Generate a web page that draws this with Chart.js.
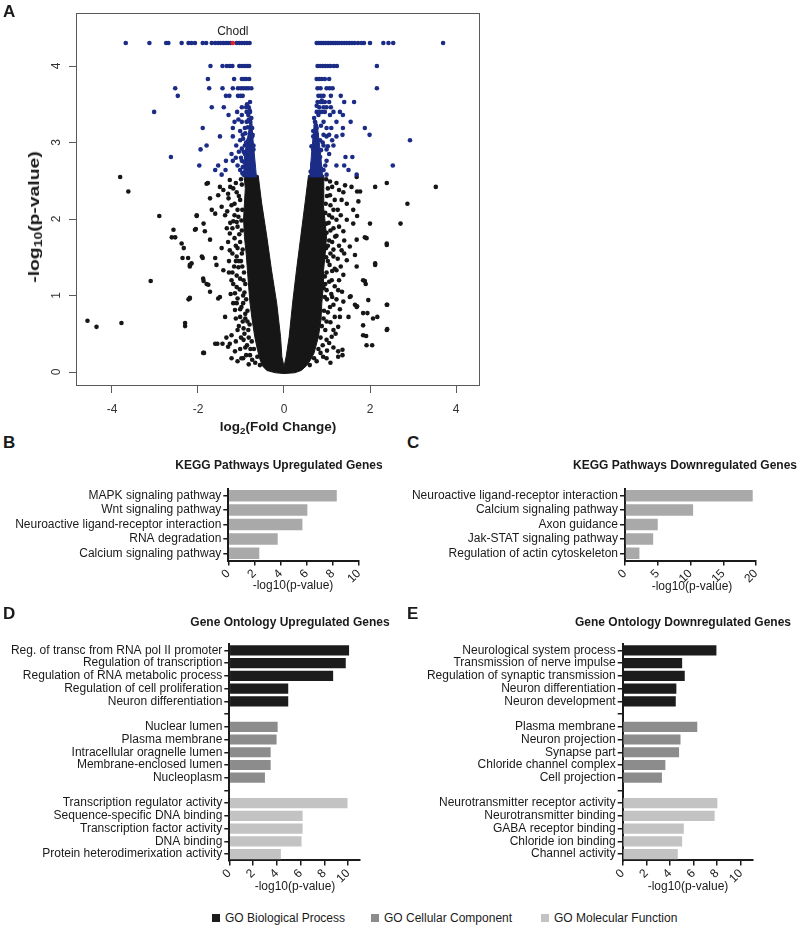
<!DOCTYPE html>
<html><head><meta charset="utf-8">
<script src="https://cdn.jsdelivr.net/npm/chart.js@4.4.1/dist/chart.umd.min.js"></script>
<style>
body{margin:0;background:#fff;}
#wrap{position:relative;width:800px;height:928px;overflow:hidden;background:#fff;font-family:"Liberation Sans",Arial,Helvetica,sans-serif;color:#1a1a1a;}
canvas{position:absolute;}
.t{position:absolute;white-space:nowrap;line-height:1;}
.let{font-weight:bold;font-size:17px;}
.ttl{font-weight:bold;font-size:12px;transform:translateX(-50%);}
.axt{font-size:12px;transform:translateX(-50%);}
sub{font-size:0.72em;vertical-align:-0.28em;line-height:0;}
.leg{position:absolute;font-size:12px;line-height:14px;white-space:nowrap;}
.sq{display:inline-block;width:8px;height:8px;margin-right:5px;vertical-align:0px;}
</style></head>
<body><div id="wrap">
<canvas id="cA" width="500" height="425" style="left:0;top:0"></canvas>
<canvas id="cB" width="400" height="135" style="left:0;top:470px"></canvas>
<canvas id="cC" width="400" height="135" style="left:400px;top:470px"></canvas>
<canvas id="cD" width="400" height="262" style="left:0;top:630px"></canvas>
<canvas id="cE" width="400" height="262" style="left:400px;top:630px"></canvas>

<div class="t let" style="left:3px;top:3px">A</div>
<div class="t let" style="left:3px;top:434px">B</div>
<div class="t let" style="left:407px;top:434px">C</div>
<div class="t let" style="left:3px;top:605px">D</div>
<div class="t let" style="left:407px;top:605px">E</div>

<div class="t" style="left:34px;top:217px;font-weight:bold;font-size:14px;transform:translate(-50%,-50%) rotate(-90deg) scaleX(1.38);">-log<sub>10</sub>(p-value)</div>
<div class="t" style="left:278px;top:420px;font-weight:bold;font-size:13.5px;transform:translateX(-50%);">log<sub>2</sub>(Fold Change)</div>

<div class="t ttl" style="left:279px;top:459px">KEGG Pathways Upregulated Genes</div>
<div class="t ttl" style="left:685px;top:459px">KEGG Pathways Downregulated Genes</div>
<div class="t ttl" style="left:290px;top:616px">Gene Ontology Upregulated Genes</div>
<div class="t ttl" style="left:683px;top:616px">Gene Ontology Downregulated Genes</div>

<div class="t axt" style="left:293px;top:579px">-log10(p-value)</div>
<div class="t axt" style="left:692px;top:580px">-log10(p-value)</div>
<div class="t axt" style="left:295px;top:880px">-log10(p-value)</div>
<div class="t axt" style="left:688px;top:880px">-log10(p-value)</div>

<div class="leg" style="left:212px;top:911px"><span class="sq" style="background:#1c1c1c"></span>GO Biological Process</div>
<div class="leg" style="left:371px;top:911px"><span class="sq" style="background:#8c8c8c"></span>GO Cellular Component</div>
<div class="leg" style="left:541px;top:911px"><span class="sq" style="background:#c3c3c3"></span>GO Molecular Function</div>
</div>
<script>
// ---------------- Panel A data (volcano) ----------------
const xTickVals = [-4, -2, 0, 2, 4];
const yTickVals = [0, 1, 2, 3, 4];
const chodlPt = [-1.19, 4.3];
const chodlName = 'Chodl';

const sigLeft = [
[-3.68,4.3],[-3.13,4.3],[-2.74,4.3],[-2.69,4.3],[-2.38,4.3],[-2.22,4.3],[-2.15,4.3],[-2.07,4.3],[-1.89,4.3],[-1.81,4.3],[-1.68,4.3],[-1.60,4.3],[-1.53,4.3],[-1.47,4.3],[-1.41,4.3],[-1.35,4.3],[-1.30,4.3],[-1.24,4.3],[-1.10,4.3],[-1.04,4.3],[-0.98,4.3],[-0.92,4.3],[-0.86,4.3],[-0.80,4.3],
[-1.71,4.0],[-1.43,4.0],[-1.33,4.0],[-1.26,4.0],[-1.20,4.0],[-1.04,4.0],[-0.98,4.0],[-0.92,4.0],[-0.86,4.0],[-0.81,4.0],
[-1.77,3.83],[-1.16,3.83],[-0.98,3.83],[-0.93,3.83],[-0.88,3.83],[-0.81,3.83],
[-2.53,3.71],[-1.74,3.71],[-1.43,3.71],[-1.19,3.71],[-1.07,3.71],[-1.00,3.71],[-0.94,3.71],[-0.88,3.71],[-0.83,3.71],[-0.76,3.71],
[-2.47,3.61],[-1.35,3.61],[-1.27,3.61],[-1.07,3.61],[-1.01,3.61],[-0.96,3.61],
[-0.79,3.53],
[-1.68,3.46],[-1.40,3.46],[-0.98,3.46],[-0.88,3.46],[-0.82,3.46],
[-3.02,3.40],[-1.09,3.40],[-0.87,3.40],[-0.79,3.40],
[-1.29,3.36],[-0.98,3.36],[-0.83,3.36],
[-1.15,3.27],[-0.98,3.27],[-0.79,3.27],
[-1.89,3.19],[-1.19,3.19],[-0.91,3.19],[-0.74,3.19],
[-0.96,3.10],[-0.79,3.10],[-0.73,3.10],
[-1.49,3.08],[-1.19,3.08],[-0.74,3.08],
[-1.02,3.03],[-0.83,3.03],
[-1.80,2.96],[-1.11,2.96],[-0.91,2.96],[-0.71,2.96],
[-1.94,2.91],[-0.85,2.91],[-0.71,2.91],
[-1.22,2.85],[-0.91,2.85],[-0.75,2.85],
[-2.63,2.81],[-0.87,2.81],
[-1.35,2.76],[-1.19,2.76],[-0.98,2.76],
[-1.97,2.70],[-1.53,2.70],[-1.08,2.70],[-0.85,2.70],
[-1.60,2.64],[-1.36,2.64],[-1.02,2.64],[-0.76,2.64],
[-1.45,2.58],[-0.94,2.58],[-0.72,2.58],
[-0.97,2.60],[-0.90,2.62],[-0.96,2.68],[-0.92,2.74],[-1.00,2.80],[-0.94,2.88],[-0.98,2.92],[-0.88,3.00],[-0.95,3.05],[-0.90,3.12],[-0.84,3.20],[-0.87,3.27],[-0.82,3.30],[-0.76,3.32],[-0.80,3.42],[-0.86,3.50],[-1.05,2.88],[-1.12,2.80],[-1.02,3.15],[-1.06,3.30]
];
const sigRight = [
[0.76,4.3],[0.80,4.3],[0.84,4.3],[0.88,4.3],[0.92,4.3],[0.96,4.3],[1.00,4.3],[1.04,4.3],[1.08,4.3],[1.12,4.3],[1.16,4.3],[1.20,4.3],[1.24,4.3],[1.28,4.3],[1.34,4.3],[1.40,4.3],[1.46,4.3],[1.52,4.3],[1.58,4.3],[1.64,4.3],[1.72,4.3],[1.80,4.3],[1.86,4.3],[2.00,4.3],[2.31,4.3],[2.43,4.3],[2.54,4.3],[3.70,4.3],
[0.78,4.0],[0.84,4.0],[0.90,4.0],[0.96,4.0],[1.02,4.0],[1.08,4.0],[1.16,4.0],[1.23,4.0],[2.16,4.0],
[0.76,3.83],[0.82,3.83],[0.88,3.83],[0.95,3.83],[1.05,3.83],
[0.78,3.71],[0.85,3.71],[0.99,3.71],[1.06,3.71],[1.13,3.71],[2.16,3.71],
[0.80,3.61],[0.86,3.61],[0.92,3.61],[1.09,3.61],[1.32,3.61],
[0.78,3.53],[0.85,3.53],[0.90,3.53],[0.95,3.53],[1.05,3.53],[1.40,3.53],[1.63,3.53],
[0.92,3.46],[0.99,3.46],[1.09,3.46],
[0.76,3.40],[0.82,3.40],[0.88,3.40],[0.95,3.40],[1.15,3.40],[1.30,3.40],
[0.80,3.36],[1.07,3.36],[1.37,3.36],
[0.72,3.27],[0.92,3.27],[1.22,3.27],[1.55,3.27],
[0.76,3.19],[0.99,3.19],[1.10,3.19],[1.37,3.19],[1.88,3.19],
[0.76,3.10],[0.92,3.10],[1.36,3.10],[1.99,3.10],
[0.68,3.08],[0.99,3.08],[1.22,3.08],
[0.84,3.03],[1.12,3.03],[2.93,3.03],
[0.76,2.96],[0.92,2.96],[1.15,2.96],
[0.68,2.91],[0.99,2.91],
[0.72,2.85],[1.05,2.85],
[0.84,2.81],[1.43,2.81],[1.59,2.81],
[0.76,2.76],[0.99,2.76],
[0.72,2.70],[1.22,2.70],[1.40,2.70],[2.53,2.70],
[0.76,2.64],[0.92,2.64],[1.50,2.64],
[0.68,2.58],[0.99,2.58],[1.69,2.58],
[0.62,2.62],[0.66,2.72],[0.70,2.80],[0.64,2.95],[0.72,3.00],[0.68,3.15],[0.74,3.22],[0.70,3.32],[0.76,3.48],[0.86,2.90],[0.90,3.00],[0.96,2.70],[1.02,2.95],[0.86,3.22],[0.82,3.46],[0.88,3.55],[1.05,3.10],[0.80,2.62],[0.86,2.66]
];
const nsLeft = [
[-3.81,2.55],[-3.62,2.36],[-1.77,2.47],[-1.49,2.42],[-2.90,2.04],[-2.03,2.04],[-1.87,1.94],[-2.57,1.86],[-2.07,1.86],[-2.61,1.76],[-2.53,1.76],[-2.38,1.68],[-2.33,1.62],[-2.23,1.49],[-2.36,1.49],[-1.89,1.49],[-2.15,1.42],[-2.19,1.38],[-3.10,1.19],[-1.87,1.19],[-1.80,1.15],[-1.72,1.05],[-2.22,0.95],[-2.19,0.97],[-1.49,0.98],[-4.57,0.67],[-4.36,0.59],[-3.78,0.64],[-2.30,0.64],[-2.30,0.60],[-1.37,0.72],[-1.55,0.37],[-1.43,0.37],[-1.30,0.33],[-1.86,0.25],[-1.22,0.18],[-0.95,0.18],[-1.34,0.45],
[-1.80,2.46],[-1.72,2.27],[-2.03,2.05],[-2.05,1.87],[-1.84,1.84],[-1.68,2.12],[-1.60,2.07],[-1.45,2.16],[-1.37,2.05],[-1.53,2.31],[-1.26,2.51],[-1.18,2.40],[-1.18,1.97],[-1.33,1.88],[-1.72,1.73],[-1.45,1.62],[-1.91,1.51],[-1.60,1.49],[-1.57,1.40],[-1.41,1.33],[-2.19,1.40],[-1.88,1.22],[-1.76,1.14],[-1.53,0.96],[-1.26,1.59],[-1.22,1.20],[-1.14,1.03],[-1.10,0.90],[-1.02,0.72],[-0.94,0.57],[-0.83,0.55],[-1.22,0.48],[-1.60,0.37],[-1.88,0.25],[-1.26,0.37],[-1.14,0.27],[-0.99,0.18],[-0.79,0.22],[-0.67,0.12],[-0.56,0.09],[-2.19,0.96],[-1.10,1.51],[-1.02,1.70],[-1.29,2.27],[-1.06,2.03],[-1.41,2.38],[-1.02,2.25],[-1.26,1.81],[-1.06,1.37],[-1.14,0.81],[-0.99,0.85],[-0.94,0.42],[-1.10,1.11],
[-0.98,2.45],[-1.05,2.30],[-0.97,2.12],[-1.08,1.90],[-0.98,1.85],[-1.12,1.65],[-0.96,1.60],[-1.00,1.45],[-0.93,1.30],[-1.02,1.22],[-0.90,1.15],[-0.95,1.00],[-0.88,0.95],[-0.85,0.80],[-0.90,0.70],[-0.80,0.62],[-0.75,0.40],[-0.70,0.30],[-0.62,0.20],[-0.86,0.35],[-1.15,2.20],[-1.12,1.45],[-1.20,1.30],[-1.05,0.60],
[-1.25,2.42],[-1.12,2.47],[-1.00,2.52],[-1.30,2.33],[-1.10,2.35],[-1.22,2.18],[-1.08,2.12],[-1.32,2.10],[-1.15,2.05],[-1.25,1.95],[-1.10,1.96],[-0.99,1.98],[-1.20,1.88],[-1.04,1.80],[-1.15,1.75],[-1.30,1.70],[-1.08,1.62],[-1.20,1.55],[-0.98,1.55],[-1.28,1.45],[-1.05,1.45],[-1.16,1.38],[-0.97,1.38],[-1.28,1.30],[-1.10,1.26],[-0.94,1.20],[-1.18,1.15],[-1.03,1.08],[-1.24,1.02],[-0.92,1.04],[-1.08,0.96],[-1.18,0.90],[-0.95,0.90],[-1.02,0.82],[-0.90,0.76],[-1.12,0.70],[-0.96,0.66],[-0.85,0.66],[-1.08,0.55],[-0.92,0.50],[-1.00,0.45],[-0.82,0.45],[-1.12,0.40],[-0.90,0.32],[-1.02,0.30],[-0.78,0.30],[-0.88,0.22],[-1.08,0.14],[-0.74,0.16],[-0.82,0.10]
];
const nsRight = [
[3.53,2.42],[2.39,2.47],[2.12,2.42],[1.70,2.36],[2.87,2.20],[2.71,1.94],[1.70,2.04],[2.00,1.94],[1.88,1.76],[2.39,1.68],[2.12,1.42],[1.88,1.19],[1.90,1.15],[1.55,0.99],[2.40,0.88],[1.65,0.88],[1.70,0.86],[2.17,0.72],[1.94,0.77],[2.40,0.56],[1.91,0.47],[2.05,0.35],[1.36,0.29],[1.36,0.22],
[1.07,2.49],[1.22,2.47],[1.42,2.44],[1.57,2.42],[1.77,2.36],[1.69,2.55],[1.07,2.31],[1.34,2.25],[1.46,2.20],[1.61,2.12],[1.73,2.23],[1.15,2.12],[0.99,1.94],[1.22,1.99],[1.46,1.99],[1.61,1.94],[1.38,1.84],[1.19,1.77],[1.69,1.73],[1.92,1.75],[1.53,1.64],[1.34,1.59],[1.65,1.53],[1.15,1.51],[1.46,1.46],[1.69,1.38],[2.12,1.40],[1.22,1.33],[1.11,1.20],[1.38,1.27],[1.84,1.20],[0.99,1.07],[1.26,1.07],[1.53,0.98],[1.69,0.85],[1.96,0.94],[2.39,0.88],[1.07,0.85],[1.38,0.92],[1.30,0.72],[1.50,0.72],[1.84,0.77],[2.07,0.70],[0.99,0.66],[1.15,0.55],[1.26,0.59],[1.84,0.61],[2.39,0.55],[0.99,0.42],[1.11,0.46],[1.26,0.27],[1.26,0.20],[1.84,0.48],[1.92,0.35],[0.91,0.20],[0.76,0.14],[0.99,0.18],[0.60,0.09],[2.39,1.66],
[1.02,2.40],[0.97,2.20],[1.05,2.05],[1.08,1.85],[1.02,1.65],[0.98,1.50],[1.06,1.40],[0.95,1.25],[0.92,1.10],[1.00,0.95],[0.93,0.80],[0.88,0.60],[0.85,0.45],[0.80,0.30],[0.70,0.18],[1.12,1.70],[1.18,1.35],[1.12,0.98],
[0.98,2.52],[1.12,2.42],[1.28,2.38],[1.00,2.30],[1.18,2.25],[1.38,2.35],[1.08,2.18],[1.25,2.12],[0.96,2.08],[1.12,2.02],[1.32,2.05],[1.04,1.95],[1.28,1.90],[1.15,1.88],[0.99,1.82],[1.22,1.78],[1.40,1.72],[1.05,1.72],[1.28,1.65],[1.15,1.60],[0.98,1.62],[1.40,1.55],[1.08,1.55],[1.25,1.48],[1.02,1.45],[1.32,1.38],[1.12,1.32],[0.99,1.30],[1.28,1.20],[1.05,1.18],[1.18,1.12],[0.96,1.15],[1.35,1.05],[1.10,1.02],[1.22,0.95],[0.95,0.98],[1.15,0.88],[1.30,0.82],[1.02,0.78],[1.18,0.72],[0.92,0.70],[1.08,0.65],[1.20,0.50],[0.96,0.55],[1.05,0.38],[0.90,0.35],[1.15,0.32],[1.00,0.28],[0.85,0.25],[1.08,0.12]
];
// outline of the solid (overplotted) non-significant cloud
const coreOutline = [
[-0.93,2.57],[-0.90,2.40],[-0.92,2.20],[-0.94,2.00],[-0.92,1.77],[-0.88,1.55],[-0.85,1.33],[-0.82,1.10],[-0.79,0.90],[-0.74,0.68],[-0.68,0.46],[-0.62,0.30],[-0.57,0.18],[-0.50,0.08],[-0.40,0.02],[-0.20,-0.01],[0.00,-0.02],[0.25,-0.01],[0.40,0.02],[0.52,0.08],[0.62,0.16],[0.70,0.25],[0.80,0.46],[0.86,0.68],[0.88,0.90],[0.91,1.10],[0.92,1.33],[0.96,1.55],[0.99,1.77],[0.95,2.00],[0.91,2.21],[0.92,2.40],[0.93,2.57],
[0.57,2.57],[0.49,2.21],[0.39,1.77],[0.29,1.33],[0.20,0.90],[0.12,0.46],[0.05,0.20],[0.00,0.07],
[-0.05,0.20],[-0.08,0.46],[-0.17,0.90],[-0.29,1.33],[-0.40,1.77],[-0.52,2.21],[-0.60,2.57],[-0.93,2.57]
];
const sigCoreLeft = [[-0.92,2.55],[-0.93,2.75],[-0.88,2.95],[-0.82,3.15],[-0.78,3.30],[-0.75,3.30],[-0.73,3.10],[-0.69,2.85],[-0.64,2.55],[-0.92,2.55]];
const sigCoreRight = [[0.60,2.55],[0.64,2.85],[0.68,3.10],[0.71,3.28],[0.76,3.28],[0.80,3.10],[0.85,2.85],[0.90,2.55],[0.60,2.55]];

// ---------------- Panels B-E data ----------------
const keggUpLabels = ['MAPK signaling pathway','Wnt signaling pathway','Neuroactive ligand-receptor interaction','RNA degradation','Calcium signaling pathway'];
const keggUpValues = [8.3, 6.05, 5.67, 3.78, 2.37];
const keggUpTicks = [0, 2, 4, 6, 8, 10];

const keggDownLabels = ['Neuroactive ligand-receptor interaction','Calcium signaling pathway','Axon guidance','Jak-STAT signaling pathway','Regulation of actin cytoskeleton'];
const keggDownValues = [19.5, 10.4, 5.0, 4.3, 2.2];
const keggDownTicks = [0, 5, 10, 15, 20];

const goUpLabels = ['Reg. of transc from RNA pol II promoter','Regulation of transcription','Regulation of RNA metabolic process','Regulation of cell proliferation','Neuron differentiation','',
 'Nuclear lumen','Plasma membrane','Intracellular oragnelle lumen','Membrane-enclosed lumen','Nucleoplasm','',
 'Transcription regulator activity','Sequence-specific DNA binding','Transcription factor activity','DNA binding','Protein heterodimerixation activity'];
const goUpValues = [10.08, 9.8, 8.74, 4.96, 4.96, null, 4.07, 3.98, 3.48, 3.48, 3.0, null, 9.95, 6.17, 6.17, 6.08, 4.34];

const goDownLabels = ['Neurological system process','Transmission of nerve impulse','Regulation of synaptic transmission','Neuron differentiation','Neuron development','',
 'Plasma membrane','Neuron projection','Synapse part','Chloride channel complex','Cell projection','',
 'Neurotransmitter receptor activity','Neurotransmitter binding','GABA receptor binding','Chloride ion binding','Channel activity'];
const goDownValues = [7.93, 5.03, 5.25, 4.54, 4.49, null, 6.31, 4.89, 4.77, 3.61, 3.32, null, 8.01, 7.78, 5.17, 5.03, 4.66];

const goGroups = ['BP','BP','BP','BP','BP','','CC','CC','CC','CC','CC','','MF','MF','MF','MF','MF'];
const goTicks = [0, 2, 4, 6, 8, 10];

// ---------------- styling ----------------
const FONT = '"Liberation Sans", Arial, Helvetica, sans-serif';
const AX = '#1a1a1a';
const BLUE = '#1b2c86', BLACK = '#161616', RED = '#e3202a';
const groupColor = {BP:'#1c1c1c', CC:'#8c8c8c', MF:'#c3c3c3', '':'#ffffff'};
const KEGG_COLOR = '#a9a9a9';
Chart.defaults.font.family = FONT;

const xy = arr => arr.map(p => ({x:p[0], y:p[1]}));
const poly = (arr, color) => ({data: xy(arr), showLine:true, fill:'shape', backgroundColor:color, borderColor:color, borderWidth:1, pointRadius:0, pointHoverRadius:0, tension:0, order:10});
const pts = (arr, color, order) => ({data: xy(arr), backgroundColor:color, borderColor:color, borderWidth:0, pointRadius:2.3, pointHoverRadius:2.3, order});

const aDecor = {
  id:'aDecor',
  afterDraw(chart){
    const {ctx, chartArea:a, scales:{x, y}} = chart;
    ctx.save();
    ctx.strokeStyle = '#5a5a5a'; ctx.lineWidth = 1;
    ctx.strokeRect(Math.round(a.left)+0.5, Math.round(a.top)+0.5, Math.round(a.width)-1, Math.round(a.height)-1);
    ctx.fillStyle = '#333'; ctx.font = '12px ' + FONT; ctx.textAlign = 'center'; ctx.textBaseline = 'middle';
    yTickVals.forEach(v => {
      const py = y.getPixelForValue(v);
      ctx.save(); ctx.translate(a.left - 19, py); ctx.rotate(-Math.PI/2); ctx.fillText(String(v), 0, 0); ctx.restore();
    });
    ctx.fillStyle = '#222';
    ctx.fillText(chodlName, x.getPixelForValue(chodlPt[0]), y.getPixelForValue(chodlPt[1]) - 11);
    ctx.restore();
  }
};

new Chart(document.getElementById('cA'), {
  type:'scatter',
  data:{datasets:[
    pts([chodlPt], RED, 1),
    pts(sigLeft, BLUE, 2),
    pts(sigRight, BLUE, 2),
    pts(nsLeft, BLACK, 3),
    pts(nsRight, BLACK, 3),
    poly(sigCoreLeft, BLUE),
    poly(sigCoreRight, BLUE),
    poly(coreOutline, BLACK)
  ]},
  options:{
    responsive:false, animation:false, events:[],
    layout:{padding:{left:0, top:13, right:20, bottom:0}},
    plugins:{legend:{display:false}, tooltip:{enabled:false}},
    scales:{
      x:{type:'linear', min:-4.837, max:4.558,
         afterBuildTicks:s => { s.ticks = xTickVals.map(v => ({value:v})); },
         afterFit:s => { s.height = 39; },
         grid:{drawOnChartArea:false, drawTicks:true, tickLength:7, color:'#5a5a5a', lineWidth:1},
         border:{display:false},
         ticks:{color:'#333', font:{size:12}, padding:9, maxRotation:0, minRotation:0}},
      y:{type:'linear', min:-0.183, max:4.693,
         afterBuildTicks:s => { s.ticks = yTickVals.map(v => ({value:v})); },
         afterFit:s => { s.width = 76; },
         grid:{drawOnChartArea:false, drawTicks:true, tickLength:7, color:'#5a5a5a', lineWidth:1},
         border:{display:false},
         ticks:{display:false}}
    }
  },
  plugins:[aDecor]
});

function barChart(id, labels, values, colors, xTicks, xMax, box){
  return new Chart(document.getElementById(id), {
    type:'bar',
    data:{labels, datasets:[{data:values, backgroundColor:colors, borderWidth:0, barPercentage:0.8, categoryPercentage:1}]},
    options:{
      indexAxis:'y', responsive:false, animation:false, events:[],
      layout:{padding:{top:box.top, right:box.right, left:0, bottom:0}},
      plugins:{legend:{display:false}, tooltip:{enabled:false}},
      scales:{
        x:{type:'linear', min:0, max:xMax,
           afterBuildTicks:s => { s.ticks = xTicks.map(v => ({value:v})); },
           afterFit:s => { s.height = box.xh; },
           grid:{drawOnChartArea:false, tickLength:5, color:AX, lineWidth:1.5},
           border:{color:AX, width:2},
           ticks:{minRotation:45, maxRotation:45, color:AX, font:{size:12}, padding:1}},
        y:{afterFit:s => { s.width = box.left; },
           grid:{offset:false, drawOnChartArea:false, tickLength:5, color:AX, lineWidth:1.5},
           border:{color:AX, width:2},
           ticks:{autoSkip:false, color:AX, font:{size:12}, padding:2}}
      }
    }
  });
}

barChart('cB', keggUpLabels, keggUpValues, keggUpLabels.map(() => KEGG_COLOR), keggUpTicks, 10, {top:18.5, right:41, left:228.3, xh:44.5});
barChart('cC', keggDownLabels, keggDownValues, keggDownLabels.map(() => KEGG_COLOR), keggDownTicks, 20, {top:18.5, right:44, left:225, xh:44.5});
barChart('cD', goUpLabels, goUpValues, goGroups.map(g => groupColor[g]), goTicks, 11, {top:14.1, right:40, left:229.3, xh:31.6});
barChart('cE', goDownLabels, goDownValues, goGroups.map(g => groupColor[g]), goTicks, 11, {top:14.1, right:47.3, left:222.7, xh:31.6});
</script>
</body></html>
